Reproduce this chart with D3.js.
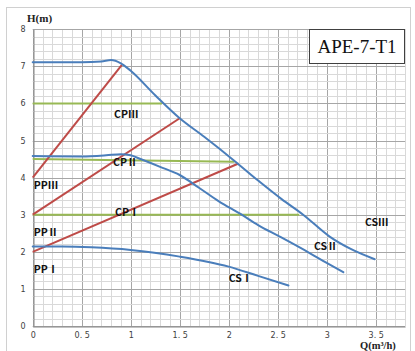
<!DOCTYPE html>
<html><head><meta charset="utf-8">
<script src="https://cdn.jsdelivr.net/npm/d3@7"></script>
<style>html,body{margin:0;padding:0;background:#fff;}svg{display:block;}</style>
</head><body>
<script>
// Data
const xTicks = [0, 0.5, 1, 1.5, 2, 2.5, 3, 3.5];
const xTickLabels = ["0", "0. 5", "1", "1. 5", "2", "2. 5", "3", "3. 5"];
const yTicks = [0, 1, 2, 3, 4, 5, 6, 7, 8];

const csIII = [[0,7.11],[0.5,7.11],[0.7,7.13],[0.8,7.17],[0.9,7.08],[1.0,6.88],[1.25,6.22],[1.5,5.6],[1.75,5.1],[2.05,4.47],[2.3,3.92],[2.54,3.42],[2.76,3.0],[3.03,2.41],[3.25,2.07],[3.49,1.8]];
const csII = [[0,4.58],[0.5,4.57],[0.75,4.6],[0.9,4.63],[1.0,4.6],[1.1,4.5],[1.3,4.29],[1.5,4.07],[1.7,3.72],[1.9,3.36],[2.12,3.02],[2.3,2.72],[2.52,2.41],[2.83,1.96],[3.0,1.7],[3.17,1.45]];
const csI = [[0,2.14],[0.3,2.14],[0.6,2.12],[1.0,2.05],[1.5,1.87],[2.0,1.6],[2.3,1.35],[2.61,1.09]];

const ppIII = [[0,4.0],[0.91,7.04]];
const ppII = [[0,3.0],[1.5,5.6]];
const ppI = [[0,2.0],[2.1,4.38]];

const cpIII = [[0,6.0],[1.32,6.0]];
const cpII = [[0,4.5],[2.06,4.43]];
const cpI = [[0,3.0],[2.72,3.0]];

const labels = [
  {t:"CPⅢ", q:0.83, h:5.6},
  {t:"CPⅡ", q:0.82, h:4.3},
  {t:"CPⅠ", q:0.84, h:2.97},
  {t:"PPⅢ", q:0.01, h:3.7},
  {t:"PPⅡ", q:0.01, h:2.42},
  {t:"PPⅠ", q:0.01, h:1.42},
  {t:"CSⅠ", q:2.0, h:1.19},
  {t:"CSⅡ", q:2.87, h:2.05},
  {t:"CSⅢ", q:3.39, h:2.7}
];

const W = 415, H = 351;
const svg = d3.select("body").append("svg").attr("width", W).attr("height", H);

// outer border
svg.append("rect").attr("x", 6.5).attr("y", 7.5).attr("width", 404).attr("height", 350)
  .attr("fill", "#fff").attr("stroke", "#d0d0d0").attr("stroke-width", 1);

const x = d3.scaleLinear().domain([0, 3.8]).range([32.7, 405.1]);
const y = d3.scaleLinear().domain([0, 8]).range([326, 29.2]);

// grid
const g = svg.append("g");
const minorX = d3.range(0, 39).map(i => i / 10);
const minorY = d3.range(0, 41).map(i => i / 5);
g.selectAll(".mx").data(minorX).enter().append("line")
  .attr("x1", d => Math.round(x(d)) + 0.5).attr("x2", d => Math.round(x(d)) + 0.5)
  .attr("y1", y(8)).attr("y2", y(0))
  .attr("stroke", d => (Math.round(d * 10) % 5 === 0) ? "#a6a6a6" : "#d9d9d9").attr("stroke-width", 1);
g.selectAll(".my").data(minorY).enter().append("line")
  .attr("y1", d => Math.round(y(d)) + 0.5).attr("y2", d => Math.round(y(d)) + 0.5)
  .attr("x1", x(0)).attr("x2", x(3.8))
  .attr("stroke", d => (Math.round(d * 5) % 5 === 0) ? "#a6a6a6" : "#d9d9d9").attr("stroke-width", 1);

// axes
const xAxis = d3.axisBottom(x).tickValues(xTicks).tickFormat((d, i) => xTickLabels[i]).tickSize(0).tickPadding(6);
const yAxis = d3.axisLeft(y).tickValues(yTicks).tickSize(0).tickPadding(8);
const gx = svg.append("g").attr("transform", `translate(0,${Math.round(y(0)) + 0.5})`).call(xAxis);
const gy = svg.append("g").attr("transform", `translate(${Math.round(x(0)) + 0.5},0)`).call(yAxis);
[gx, gy].forEach(a => {
  a.select(".domain").attr("stroke", "#868686");
  a.selectAll("text").attr("fill", "#404040").style("font-family", "DejaVu Sans, sans-serif").style("font-size", "8px");
});

// lines
const line = d3.line().x(d => x(d[0])).y(d => y(d[1]));
const smooth = d3.line().x(d => x(d[0])).y(d => y(d[1])).curve(d3.curveMonotoneX);
const blue = "#4a7ebb", red = "#be4b48", green = "#98b954";

[cpIII, cpII, cpI].forEach(s => svg.append("path").attr("d", line(s)).attr("fill", "none").attr("stroke", green).attr("stroke-width", 2));
[ppIII, ppII, ppI].forEach(s => svg.append("path").attr("d", line(s)).attr("fill", "none").attr("stroke", red).attr("stroke-width", 2));
[csIII, csII, csI].forEach(s => svg.append("path").attr("d", smooth(s)).attr("fill", "none").attr("stroke", blue).attr("stroke-width", 2).attr("stroke-linecap", "round"));

// labels
svg.selectAll(".lbl").data(labels).enter().append("text")
  .attr("x", d => x(d.q)).attr("y", d => y(d.h))
  .text(d => d.t)
  .style("font-family", "'Noto Sans CJK SC', 'DejaVu Sans', sans-serif").style("font-weight", "bold").style("font-size", "10.5px").attr("fill", "#111");

// axis titles
svg.append("text").attr("x", 27).attr("y", 22).text("H(m)")
  .style("font-family", "Liberation Serif, serif").style("font-weight", "bold").style("font-size", "11px").attr("fill", "#222");
svg.append("text").attr("x", 360).attr("y", 349).text("Q(m³/h)")
  .style("font-family", "Liberation Serif, serif").style("font-weight", "bold").style("font-size", "10.5px").attr("fill", "#222");

// title box
svg.append("rect").attr("x", 309.5).attr("y", 29.5).attr("width", 95).attr("height", 34)
  .attr("fill", "#fff").attr("stroke", "#404040").attr("stroke-width", 1);
svg.append("text").attr("x", 357).attr("y", 52.5).attr("text-anchor", "middle").text("APE-7-T1")
  .style("font-family", "Liberation Serif, serif").style("font-size", "19px").attr("fill", "#111");
</script>
</body></html>
